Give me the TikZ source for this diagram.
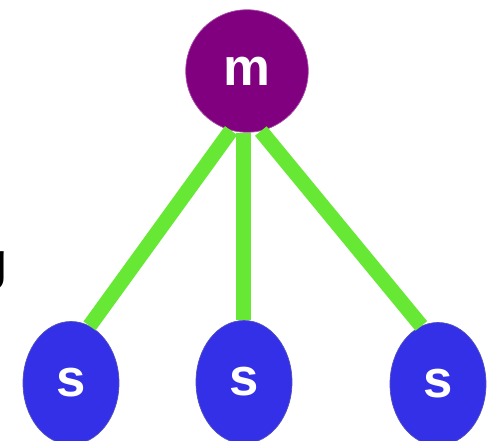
\documentclass[tikz,border=0pt]{standalone}
\usepackage{fontspec}
\setsansfont{Liberation Sans}
\usepackage{tikz}
\usetikzlibrary{shapes.geometric}
\definecolor{mpurple}{RGB}{128,0,128}
\definecolor{sblue}{RGB}{52,48,232}
\definecolor{lgreen}{RGB}{102,232,52}
\tikzset{>=latex}

\begin{document}
\begin{tikzpicture}
                        % m = master, s = slaves
                        \tikzset{every node/.style={font=\fontsize{30}{32}\selectfont\sffamily\bfseries, text=white}}
                        \tikzset{mnode/.style={circle, fill=mpurple, draw=mpurple!70!white, thin, minimum size=2.45cm, inner sep=0pt}}
                        \tikzset{snode/.style={ellipse, fill=sblue, draw=sblue!60!gray, thin, minimum width=1.92cm, minimum height=2.46cm, inner sep=0pt}}
                        \tikzset{link/.style={lgreen, line width=0.3cm}}
                        \useasboundingbox (0, 0) rectangle (9.8, -8.82);
                        \node[mnode] (M) at (4.94, -1.42) {m};
                        \node[snode] (SL) at (1.42, -7.66) {s};
                        \node[snode] (SM) at (4.88, -7.64) {s};
                        \node[snode] (SR) at (8.76, -7.68) {s};
                        \node[text=black] (G) at (-0.16, -5.42) {g};

                        \draw[link] (M.255) -- (SL.72);
                        \draw[link] (M.south -| SM.north) -- (SM.north);
                        \draw[link] (M.283) -- (SR.106);
                \end{tikzpicture}
\end{document}
